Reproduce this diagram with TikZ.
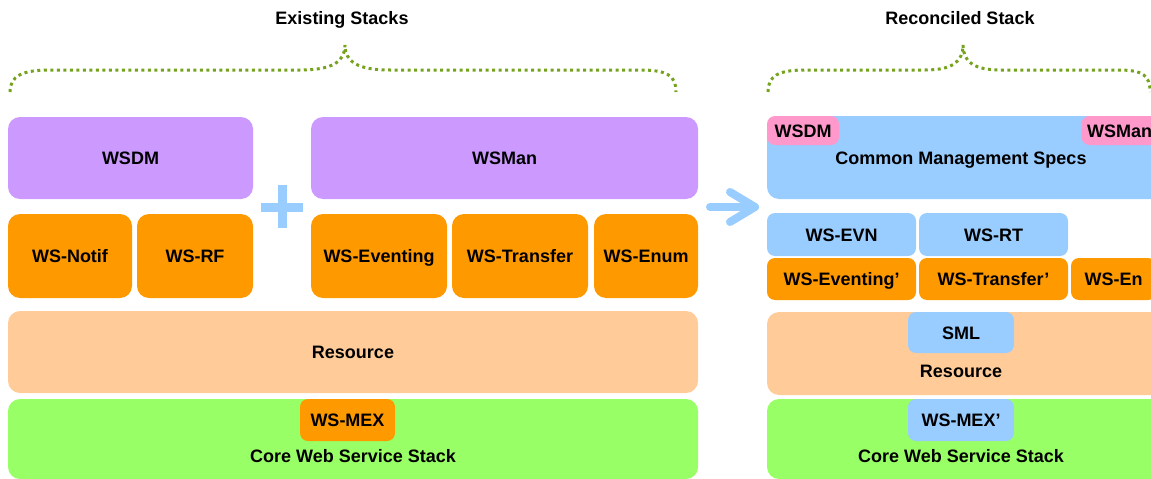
\documentclass[tikz,border=0pt]{standalone}
\usepackage{fontspec}
\setmainfont{Liberation Sans}
\definecolor{wsviolet}{HTML}{CC99FF}
\definecolor{wsorange}{HTML}{FF9900}
\definecolor{wspeach}{HTML}{FFCC99}
\definecolor{wsgreen}{HTML}{99FF66}
\definecolor{wsblue}{HTML}{99CCFF}
\definecolor{wspink}{HTML}{FF99CC}
\definecolor{braceclr}{HTML}{76A31E}
\begin{document}
\begin{tikzpicture}[x=1pt, y=-1pt,
    every node/.style={font=\fontsize{18}{21}\selectfont\bfseries, text height=13pt, text depth=0pt},
    blk/.style 2 args={rounded corners=12pt, inner sep=0pt, minimum width=#1, minimum height=#2},
    tag/.style 2 args={rounded corners=8pt, inner sep=0pt, minimum width=#1, minimum height=#2},
    brace/.style={braceclr, line width=3pt, dash pattern=on 3pt off 3.5pt},
    arrowln/.style={wsblue, line width=8pt, line cap=round, line join=round}]
  \useasboundingbox (0,0) rectangle (1151,479);
  \clip (0,0) rectangle (1151,479);

  % titles and braces
  \node (ttlold) at (342,18) {Existing Stacks};
  \node (ttlnew) at (960,18) {Reconciled Stack};
  \draw[brace] (10,92) .. controls (10,76) and (22,70) .. (50,70) -- (300,70)
    .. controls (332,70) and (345,62) .. (345,45)
    .. controls (345,62) and (358,70) .. (390,70) -- (640,70)
    .. controls (668,70) and (676,76) .. (676,92);
  \draw[brace] (768,92) .. controls (768,76) and (778,70) .. (805,70) -- (925,70)
    .. controls (952,70) and (963,62) .. (963,45)
    .. controls (963,62) and (974,70) .. (1001,70) -- (1118,70)
    .. controls (1144,70) and (1150,76) .. (1150,92);

  % existing stacks
  \node[blk={245}{82}, fill=wsviolet] (wsdm) at (130.5,158) {WSDM};
  \node[blk={387}{82}, fill=wsviolet] (wsman) at (504.5,158) {WSMan};
  \node[blk={124}{84}, fill=wsorange] (notif) at (70,256) {WS-Notif};
  \node[blk={116}{84}, fill=wsorange] (rf) at (195,256) {WS-RF};
  \node[blk={136}{84}, fill=wsorange] (evt) at (379,256) {WS-Eventing};
  \node[blk={136}{84}, fill=wsorange] (trf) at (520,256) {WS-Transfer};
  \node[blk={104}{84}, fill=wsorange] (enm) at (646,256) {WS-Enum};
  \node[blk={690}{82}, fill=wspeach] (res) at (353,352) {Resource};
  \node[blk={690}{80}, fill=wsgreen] (core) at (353,439) {};
  \node[tag={95}{42}, fill=wsorange] (mex) at (347.5,420) {WS-MEX};
  \node (corelbl) at (353,456) {Core Web Service Stack};

  % plus
  \draw[wsblue, line width=9pt] (261,207) -- (303,207);
  \draw[wsblue, line width=9pt] (282,185) -- (282,228);

  % arrow
  \coordinate (arrs) at (710,207);
  \coordinate (arre) at (755,207);
  \draw[arrowln] (arrs) -- (arre);
  \draw[arrowln] ([shift={(-25,-15)}]arre) -- (arre) -- ([shift={(-25,15)}]arre);

  % reconciled stack
  \node[blk={398}{83}, fill=wsblue] (cms) at (966,157.5) {};
  \node (cmslbl) at (961,158) {Common Management Specs};
  \node[tag={72}{29}, fill=wspink] (wsdmb) at (803,130.5) {WSDM};
  \node[tag={76}{29}, fill=wspink] (wsmanb) at (1119.5,130.5) {WSMan};
  \node[tag={149}{43}, fill=wsblue] (evn) at (841.5,234.5) {WS-EVN};
  \node[tag={149}{43}, fill=wsblue] (rt) at (993.5,234.5) {WS-RT};
  \node[tag={149}{42}, fill=wsorange] (evtb) at (841.5,279) {WS-Eventing’};
  \node[tag={149}{42}, fill=wsorange] (trfb) at (993.5,279) {WS-Transfer’};
  \node[tag={85}{42}, fill=wsorange] (enmb) at (1113.5,279) {WS-En};
  \node[blk={398}{83}, fill=wspeach] (resb) at (966,353.5) {};
  \node[tag={106}{41}, fill=wsblue] (sml) at (961,332.5) {SML};
  \node (reslbl) at (961,371) {Resource};
  \node[blk={398}{80}, fill=wsgreen] (coreb) at (966,439) {};
  \node[tag={106}{42}, fill=wsblue] (mexb) at (961,420) {WS-MEX’};
  \node (corebl) at (961,456) {Core Web Service Stack};
\end{tikzpicture}
\end{document}
